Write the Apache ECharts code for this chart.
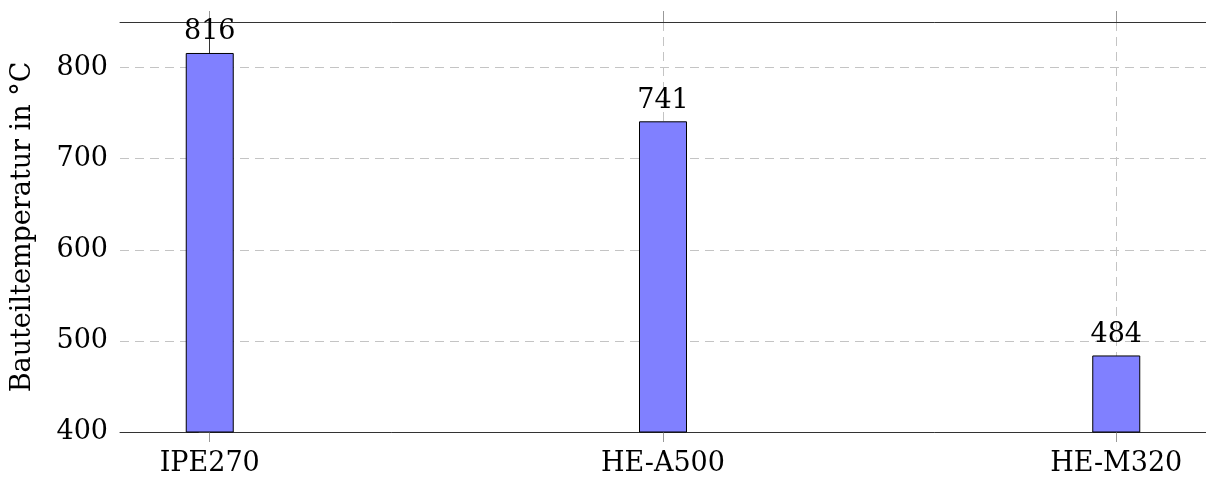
<!DOCTYPE html>
<html>
<head>
<meta charset="utf-8">
<script src="https://cdn.jsdelivr.net/npm/echarts@6/dist/echarts.min.js"></script>
<style>
  html, body { margin: 0; padding: 0; background: #fff; }
  #chart { width: 1206px; height: 480px; }
</style>
</head>
<body>
<div id="chart"></div>
<script>
var categories = ['IPE270', 'HE-A500', 'HE-M320'];
var temperatures = [816, 741, 484];
var yTicks = [400, 500, 600, 700, 800];

var font = '"DejaVu Serif", "Liberation Serif", serif';
var fontSize = 27;
var catIdx = categories.map(function (c, i) { return i; });
var dashed = { color: '#c4c4c4', width: 1, type: [9, 6] };

var chart = echarts.init(document.getElementById('chart'));
chart.setOption({
    animation: false,
    grid: { left: 120, top: 22, width: 1089, height: 410 },
    xAxis: [
        {
            type: 'value', min: -0.198, max: 2.198,
            axisLine: { lineStyle: { color: '#333' } },
            axisTick: { show: true, customValues: catIdx, length: 10, lineStyle: { color: '#999' } },
            axisLabel: {
                customValues: catIdx, margin: 18,
                fontFamily: font, fontSize: fontSize, color: '#000',
                formatter: function (v) { return categories[Math.round(v)]; }
            },
            splitLine: { show: true, lineStyle: dashed }
        },
        {
            type: 'value', position: 'top', min: -0.198, max: 2.198,
            axisLine: { show: true, lineStyle: { color: '#333' } },
            axisTick: { show: true, customValues: catIdx, length: 11, lineStyle: { color: '#999' } },
            axisLabel: { show: false },
            splitLine: { show: false }
        }
    ],
    yAxis: [
        {
            type: 'value', min: 400, max: 850, interval: 100,
            name: 'Bauteiltemperatur in °C',
            nameLocation: 'middle', nameGap: 84,
            nameTextStyle: { fontFamily: font, fontSize: fontSize, color: '#000' },
            axisLine: { show: true, lineStyle: { color: '#333' } },
            axisTick: { show: false },
            axisLabel: {
                margin: 12, fontFamily: font, fontSize: fontSize, color: '#000',
                formatter: function (v) { return yTicks.indexOf(v) >= 0 ? String(v) : ''; }
            },
            splitLine: { show: true, lineStyle: dashed }
        },
        {
            type: 'value', position: 'right', min: 400, max: 850, interval: 100,
            axisLine: { show: true, lineStyle: { color: '#333' } },
            axisTick: { show: true, inside: true, length: 11, lineStyle: { color: '#777' } },
            axisLabel: { show: false },
            splitLine: { show: false }
        }
    ],
    series: [{
        type: 'bar',
        barWidth: 48,
        data: temperatures.map(function (t, i) { return [i, t]; }),
        itemStyle: { color: '#8080ff', borderColor: '#000', borderWidth: 1 },
        label: {
            show: true, position: 'top', distance: 7,
            fontFamily: font, fontSize: fontSize, color: '#000',
            formatter: function (p) { return String(p.value[1]); }
        }
    }]
});
</script>
</body>
</html>
